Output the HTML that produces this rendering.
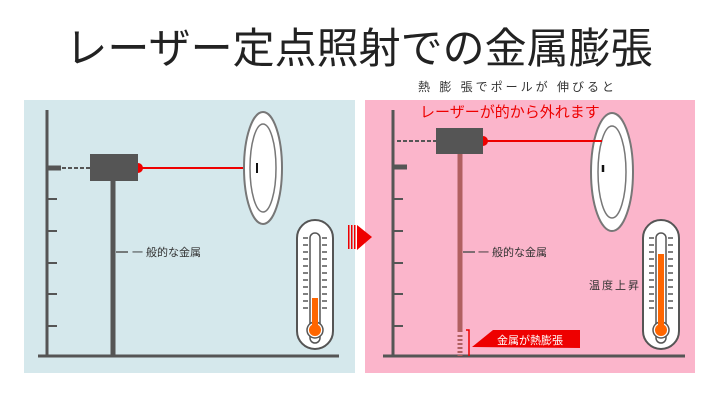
<!DOCTYPE html>
<html><head><meta charset="utf-8"><style>
body{margin:0;background:#fff}
svg{display:block}
text{font-family:"Liberation Sans","Noto Sans CJK JP",sans-serif}
</style></head><body>
<svg width="720" height="405" viewBox="0 0 720 405" xmlns="http://www.w3.org/2000/svg">
<defs>
<g id="thermo">
  <rect x="0" y="0" width="36" height="129" rx="18" fill="#fff" stroke="#555" stroke-width="2"/>
  <rect x="13" y="13" width="10" height="110" rx="5" fill="#fff" stroke="#555" stroke-width="1.5"/>
  <circle cx="18" cy="110" r="8" fill="#fff" stroke="#555" stroke-width="1.5"/>
  <g stroke="#555" stroke-width="1.5">
    <line x1="6" y1="18" x2="11" y2="18"/><line x1="25" y1="18" x2="30" y2="18"/>
    <line x1="6" y1="25" x2="11" y2="25"/><line x1="25" y1="25" x2="30" y2="25"/>
    <line x1="6" y1="32" x2="11" y2="32"/><line x1="25" y1="32" x2="30" y2="32"/>
    <line x1="6" y1="39" x2="11" y2="39"/><line x1="25" y1="39" x2="30" y2="39"/>
    <line x1="6" y1="46" x2="11" y2="46"/><line x1="25" y1="46" x2="30" y2="46"/>
    <line x1="6" y1="53" x2="11" y2="53"/><line x1="25" y1="53" x2="30" y2="53"/>
    <line x1="6" y1="60" x2="11" y2="60"/><line x1="25" y1="60" x2="30" y2="60"/>
    <line x1="6" y1="67" x2="11" y2="67"/><line x1="25" y1="67" x2="30" y2="67"/>
    <line x1="6" y1="74" x2="11" y2="74"/><line x1="25" y1="74" x2="30" y2="74"/>
    <line x1="6" y1="81" x2="11" y2="81"/><line x1="25" y1="81" x2="30" y2="81"/>
    <line x1="6" y1="88" x2="11" y2="88"/><line x1="25" y1="88" x2="30" y2="88"/>
  </g>
</g>
</defs>
<text x="359" y="63" font-size="42" fill="#222" text-anchor="middle">レーザー定点照射での金属膨張</text>

<!-- left panel -->
<rect x="24" y="100" width="331" height="273" fill="#d5e8ec"/>
<g stroke="#555" fill="none">
  <line x1="47" y1="110" x2="47" y2="357" stroke-width="3"/>
  <line x1="38" y1="356" x2="339" y2="356" stroke-width="3"/>
  <line x1="47" y1="168" x2="61" y2="168" stroke-width="5"/>
  <line x1="62" y1="168" x2="90" y2="168" stroke-width="2" stroke-dasharray="4,2"/>
  <g stroke-width="2"><line x1="47" y1="199" x2="57" y2="199"/><line x1="47" y1="231" x2="57" y2="231"/><line x1="47" y1="263" x2="57" y2="263"/><line x1="47" y1="294" x2="57" y2="294"/><line x1="47" y1="326" x2="57" y2="326"/></g>
  <line x1="113" y1="181" x2="113" y2="356" stroke-width="5"/>
  <line x1="116" y1="252" x2="128" y2="252" stroke-width="1.5"/>
</g>
<rect x="90" y="154" width="48" height="27" fill="#555"/>
<path d="M138 163 A5 5 0 0 1 138 173 Z" fill="#e00"/>
<line x1="139" y1="168" x2="256" y2="168" stroke="#e00" stroke-width="2"/>
<ellipse cx="263" cy="168" rx="19" ry="56" fill="#fff" stroke="#777" stroke-width="2"/>
<ellipse cx="263" cy="168" rx="13" ry="44" fill="none" stroke="#777" stroke-width="1.5"/>
<line x1="257" y1="163" x2="257" y2="173" stroke="#111" stroke-width="2"/>
<text x="132" y="256" font-size="11" fill="#333">一 般的な金属</text>
<use href="#thermo" x="297" y="220"/>
<rect x="312" y="298" width="6" height="34" fill="#f60"/>
<circle cx="315" cy="330" r="6" fill="#f60"/>

<!-- right panel -->
<rect x="365" y="100" width="330" height="273" fill="#fbb5cb"/>
<g stroke="#555" fill="none">
  <line x1="393" y1="110" x2="393" y2="357" stroke-width="3"/>
  <line x1="383" y1="356" x2="685" y2="356" stroke-width="3"/>
  <line x1="393" y1="167" x2="407" y2="167" stroke-width="5"/>
  <line x1="397" y1="141" x2="436" y2="141" stroke-width="2" stroke-dasharray="4,2"/>
  <g stroke-width="2"><line x1="393" y1="199" x2="403" y2="199"/><line x1="393" y1="231" x2="403" y2="231"/><line x1="393" y1="263" x2="403" y2="263"/><line x1="393" y1="294" x2="403" y2="294"/><line x1="393" y1="326" x2="403" y2="326"/></g>
  <line x1="463" y1="252" x2="475" y2="252" stroke-width="1.5"/>
</g>
<line x1="460" y1="154" x2="460" y2="332" stroke="#b06060" stroke-width="5"/>
<line x1="460" y1="335" x2="460" y2="356" stroke="#b06060" stroke-width="5" stroke-dasharray="2,2"/>
<rect x="436" y="128" width="47" height="26" fill="#555"/>
<path d="M483 136 A5 5 0 0 1 483 146 Z" fill="#e00"/>
<ellipse cx="612" cy="172" rx="21" ry="59" fill="#fff" stroke="#777" stroke-width="2"/>
<ellipse cx="612" cy="172" rx="14" ry="46" fill="none" stroke="#777" stroke-width="1.5"/>
<line x1="484" y1="141" x2="602" y2="141" stroke="#e00" stroke-width="2"/>
<line x1="603" y1="165" x2="603" y2="172" stroke="#111" stroke-width="2.5"/>
<text x="420" y="117" font-size="15" fill="#e00">レーザーが的から外れます</text>
<text x="418" y="91" font-size="12" fill="#333" letter-spacing="3">熱 膨 張でポールが 伸びると</text>
<text x="478" y="256" font-size="11" fill="#333">一 般的な金属</text>
<text x="589" y="289" font-size="11" fill="#333" letter-spacing="2">温度上昇</text>
<use href="#thermo" x="643" y="220"/>
<rect x="658" y="254" width="6" height="76" fill="#f60"/>
<circle cx="661" cy="330" r="6" fill="#f60"/>
<path d="M466 330 H469 V356" fill="none" stroke="#e00" stroke-width="1.5"/>
<polygon points="472,347 493,330 580,330 580,348" fill="#e00"/>
<text x="497" y="344" font-size="11" fill="#fff">金属が熱膨張</text>

<!-- arrow -->
<g fill="#e00">
  <rect x="348" y="225" width="1.5" height="24"/>
  <rect x="351" y="225" width="1.5" height="24"/>
  <rect x="354" y="225" width="1.5" height="24"/>
  <polygon points="357,225 372,237 357,250"/>
</g>
</svg>
</body></html>
